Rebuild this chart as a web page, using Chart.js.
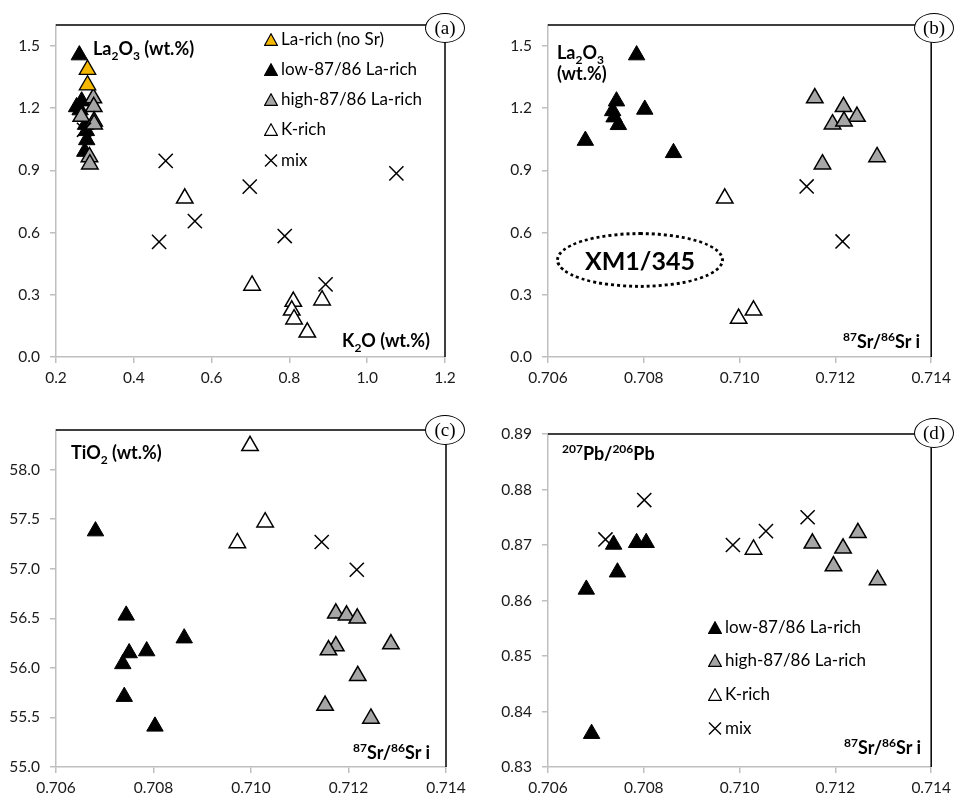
<!DOCTYPE html>
<html><head><meta charset="utf-8">
<script src="https://cdn.jsdelivr.net/npm/chart.js@4.4.1/dist/chart.umd.min.js"></script>
<style>
body{margin:0;background:#fff;}
#wrap{position:relative;width:957px;height:800px;overflow:hidden;font-family:Lato,sans-serif;color:#000;}
canvas{position:absolute;}
.lbl{position:absolute;font-weight:bold;font-size:18px;white-space:nowrap;line-height:20px;transform:translateY(-50%);}
.lbl sub,.lbl sup{font-size:12px;line-height:0;}
.r{transform:translate(-100%,-50%);}
.circ{position:absolute;width:40px;height:30px;border:1.3px solid #000;border-radius:50%;background:#fff;box-sizing:border-box;transform:translate(-50%,-50%);font-family:'Liberation Serif',serif;font-size:19px;text-align:center;line-height:27px;}
.leg{position:absolute;font-size:17px;white-space:nowrap;line-height:20px;transform:translateY(-50%);display:flex;align-items:center;}
.leg svg{margin-right:3px;}
.ell{position:absolute;left:556px;top:232px;width:168px;height:56px;border:3px dotted #000;border-radius:50%;box-sizing:border-box;}
.xm{position:absolute;left:640px;top:260px;transform:translate(-50%,-50%);font-weight:bold;font-size:25px;white-space:nowrap;}
</style></head>
<body>
<div id="wrap">
<canvas id="ca" width="480" height="400" style="left:0;top:0"></canvas>
<canvas id="cb" width="477" height="400" style="left:480px;top:0"></canvas>
<canvas id="cc" width="480" height="400" style="left:0;top:400px"></canvas>
<canvas id="cd" width="477" height="400" style="left:480px;top:400px"></canvas>

<!-- panel a -->
<div class="lbl" style="left:93px;top:48px">La<sub>2</sub>O<sub>3</sub> (wt.%)</div>
<div class="lbl r" style="left:430px;top:340px">K<sub>2</sub>O (wt.%)</div>
<div class="leg" style="left:264px;top:39px"><svg width="14" height="13"><polygon points="7,0.8 13.3,12.3 0.7,12.3" fill="#f5b800" stroke="#000" stroke-width="1.2"/></svg>La-rich (no Sr)</div>
<div class="leg" style="left:264px;top:69px"><svg width="14" height="13"><polygon points="7,0.8 13.3,12.3 0.7,12.3" fill="#000" stroke="#000" stroke-width="1.2"/></svg>low-87/86 La-rich</div>
<div class="leg" style="left:264px;top:99px"><svg width="14" height="13"><polygon points="7,0.8 13.3,12.3 0.7,12.3" fill="#a6a6a6" stroke="#000" stroke-width="1.2"/></svg>high-87/86 La-rich</div>
<div class="leg" style="left:264px;top:129px"><svg width="14" height="13"><polygon points="7,0.8 13.3,12.3 0.7,12.3" fill="#fff" stroke="#000" stroke-width="1.2"/></svg>K-rich</div>
<div class="leg" style="left:264px;top:160px"><svg width="14" height="13"><path d="M1,0.5 L13,12.5 M13,0.5 L1,12.5" stroke="#000" stroke-width="1.4"/></svg>mix</div>
<div class="circ" style="left:445px;top:28px">(a)</div>

<!-- panel b -->
<div class="lbl" style="left:557px;top:52px">La<sub>2</sub>O<sub>3</sub></div>
<div class="lbl" style="left:557px;top:73px">(wt.%)</div>
<div class="lbl r" style="left:920px;top:341px"><sup>87</sup>Sr/<sup>86</sup>Sr i</div>
<div class="ell"></div>
<div class="xm">XM1/345</div>
<div class="circ" style="left:934px;top:28px">(b)</div>

<!-- panel c -->
<div class="lbl" style="left:71px;top:452px">TiO<sub>2</sub> (wt.%)</div>
<div class="lbl r" style="left:430px;top:752px"><sup>87</sup>Sr/<sup>86</sup>Sr i</div>
<div class="circ" style="left:445px;top:430px">(c)</div>

<!-- panel d -->
<div class="lbl" style="left:562px;top:453px"><sup>207</sup>Pb/<sup>206</sup>Pb</div>
<div class="lbl r" style="left:921px;top:747px"><sup>87</sup>Sr/<sup>86</sup>Sr i</div>
<div class="leg" style="left:708px;top:627px"><svg width="14" height="13"><polygon points="7,0.8 13.3,12.3 0.7,12.3" fill="#000" stroke="#000" stroke-width="1.2"/></svg>low-87/86 La-rich</div>
<div class="leg" style="left:708px;top:660px"><svg width="14" height="13"><polygon points="7,0.8 13.3,12.3 0.7,12.3" fill="#a6a6a6" stroke="#000" stroke-width="1.2"/></svg>high-87/86 La-rich</div>
<div class="leg" style="left:708px;top:694px"><svg width="14" height="13"><polygon points="7,0.8 13.3,12.3 0.7,12.3" fill="#fff" stroke="#000" stroke-width="1.2"/></svg>K-rich</div>
<div class="leg" style="left:708px;top:728px"><svg width="14" height="13"><path d="M1,0.5 L13,12.5 M13,0.5 L1,12.5" stroke="#000" stroke-width="1.4"/></svg>mix</div>
<div class="circ" style="left:934px;top:433px">(d)</div>
</div>

<script>
// ---------- Panel (a): K2O (x) vs La2O3 (y) ----------
const aOrangeX = [0.281, 0.281];
const aOrangeY = [1.385, 1.31];
const aLowX = [0.260, 0.266, 0.253, 0.262, 0.276, 0.279, 0.274, 0.278];
const aLowY = [1.455, 1.233, 1.205, 1.19, 1.12, 1.046, 0.99, 1.09];
const aHighX = [0.296, 0.297, 0.265, 0.298, 0.298, 0.286, 0.287];
const aHighY = [1.248, 1.206, 1.159, 1.136, 1.122, 0.964, 0.929];
const aKX = [0.531, 0.704, 0.810, 0.806, 0.812, 0.846, 0.884];
const aKY = [0.765, 0.345, 0.267, 0.225, 0.182, 0.119, 0.274];
const aMixX = [0.482, 0.698, 1.075, 0.557, 0.465, 0.788, 0.893, 0.272];
const aMixY = [0.945, 0.821, 0.885, 0.655, 0.555, 0.583, 0.350, 1.095];

// ---------- Panel (b): 87Sr/86Sr i (x) vs La2O3 (y) ----------
const bLowX = [0.70785, 0.70743, 0.70802, 0.70735, 0.70738, 0.70747, 0.70678, 0.70862];
const bLowY = [1.455, 1.233, 1.193, 1.186, 1.156, 1.119, 1.043, 0.984];
const bHighX = [0.71157, 0.71217, 0.71245, 0.71194, 0.71218, 0.71173, 0.71287];
const bHighY = [1.248, 1.206, 1.159, 1.122, 1.136, 0.929, 0.964];
const bKX = [0.70969, 0.70998, 0.71029];
const bKY = [0.765, 0.185, 0.225];
const bMixX = [0.71140, 0.71215];
const bMixY = [0.822, 0.557];

// ---------- Panel (c): 87Sr/86Sr i (x) vs TiO2 (y) ----------
const cLowX = [0.70681, 0.70744, 0.70863, 0.70786, 0.70750, 0.70737, 0.70740, 0.70803];
const cLowY = [57.38, 56.53, 56.30, 56.17, 56.15, 56.04, 55.71, 55.41];
const cHighX = [0.71174, 0.71196, 0.71218, 0.71174, 0.71159, 0.71287, 0.71219, 0.71152, 0.71246];
const cHighY = [56.55, 56.53, 56.50, 56.22, 56.18, 56.24, 55.92, 55.62, 55.49];
const cKX = [0.70998, 0.71029, 0.70972];
const cKY = [58.24, 57.47, 57.26];
const cMixX = [0.71145, 0.71217];
const cMixY = [57.27, 56.99];

// ---------- Panel (d): 87Sr/86Sr i (x) vs 207Pb/206Pb (y) ----------
const dLowX = [0.70680, 0.70691, 0.70737, 0.70745, 0.70785, 0.70805];
const dLowY = [0.8620, 0.8360, 0.8701, 0.8651, 0.8704, 0.8704];
const dHighX = [0.71152, 0.71216, 0.71196, 0.71247, 0.71288];
const dHighY = [0.8703, 0.8694, 0.8662, 0.8722, 0.8637];
const dKX = [0.71029];
const dKY = [0.8692];
const dMixX = [0.70720, 0.70801, 0.70986, 0.71055, 0.71142];
const dMixY = [0.8710, 0.8781, 0.8700, 0.8725, 0.8750];

// ---------- axis ranges / ticks ----------
const srRange = [0.706, 0.714, 0.002, 3];
const aXRange = [0.2, 1.2, 0.2, 1];
const laRange = [0, 1.6, 0.3, 1];
const tiRange = [55, 58.4, 0.5, 1];
const pbRange = [0.83, 0.89, 0.01, 2];

const pts = (xs, ys) => xs.map((x, i) => ({x: x, y: ys[i]}));

const TRI = {pointStyle: 'triangle', pointRadius: 9.5, pointHoverRadius: 9.5};
const STY = {
  orange: Object.assign({backgroundColor: '#f5b800', borderColor: '#000', borderWidth: 1.3}, TRI),
  low: Object.assign({backgroundColor: '#000', borderColor: '#000', borderWidth: 1}, TRI),
  high: Object.assign({backgroundColor: '#a6a6a6', borderColor: '#000', borderWidth: 1.5}, TRI),
  krich: Object.assign({backgroundColor: '#fff', borderColor: '#000', borderWidth: 1.5}, TRI),
  mix: {pointStyle: 'crossRot', pointRadius: 10, pointHoverRadius: 10, borderColor: '#000', backgroundColor: '#000', borderWidth: 1.5}
};

function ds(label, style, xs, ys, order) {
  return Object.assign({label: label, data: pts(xs, ys), showLine: false, order: order}, STY[style]);
}

const framePlugin = {
  id: 'frame',
  beforeDatasetsDraw(chart) {
    const c = chart.ctx, a = chart.chartArea;
    c.save();
    c.strokeStyle = '#000';
    c.lineWidth = 1.5;
    c.beginPath();
    c.moveTo(a.left, a.top);
    c.lineTo(a.right, a.top);
    c.lineTo(a.right, a.bottom);
    c.stroke();
    c.restore();
  }
};

function axis(r, fit, labelPad) {
  return {
    type: 'linear', min: r[0], max: r[1],
    ticks: {stepSize: r[2], includeBounds: false, callback: v => Number(v).toFixed(r[3]),
            font: {family: 'Lato', size: 15.5}, color: '#1a1a1a', padding: labelPad, maxRotation: 0, autoSkip: false},
    grid: {drawOnChartArea: false, drawTicks: true, tickLength: 6, color: '#bfbfbf', lineWidth: 1.5},
    border: {display: true, color: '#bfbfbf', width: 1.5},
    afterFit: fit
  };
}

function makeChart(id, datasets, xr, yr, yAxisW, xAxisH, padTop, padRight) {
  return new Chart(document.getElementById(id), {
    type: 'scatter',
    data: {datasets: datasets},
    options: {
      responsive: false, animation: false, events: [],
      layout: {padding: {top: padTop, right: padRight, left: 0, bottom: 0}},
      plugins: {legend: {display: false}, tooltip: {enabled: false}},
      scales: {
        x: axis(xr, s => { s.height = xAxisH; }, 6),
        y: axis(yr, s => { s.width = yAxisW; }, 10)
      }
    },
    plugins: [framePlugin]
  });
}

makeChart('ca', [
  ds('K-rich', 'krich', aKX, aKY, 5),
  ds('mix', 'mix', aMixX, aMixY, 1),
  ds('low-87/86 La-rich', 'low', aLowX, aLowY, 4),
  ds('high-87/86 La-rich', 'high', aHighX, aHighY, 3),
  ds('La-rich (no Sr)', 'orange', aOrangeX, aOrangeY, 2)
], aXRange, laRange, 56, 43, 25, 35);

makeChart('cb', [
  ds('low-87/86 La-rich', 'low', bLowX, bLowY, 3),
  ds('high-87/86 La-rich', 'high', bHighX, bHighY, 2),
  ds('K-rich', 'krich', bKX, bKY, 4),
  ds('mix', 'mix', bMixX, bMixY, 1)
], srRange, laRange, 68, 43, 25, 21);

makeChart('cc', [
  ds('low-87/86 La-rich', 'low', cLowX, cLowY, 3),
  ds('high-87/86 La-rich', 'high', cHighX, cHighY, 2),
  ds('K-rich', 'krich', cKX, cKY, 4),
  ds('mix', 'mix', cMixX, cMixY, 1)
], srRange, tiRange, 56, 33, 30, 34);

makeChart('cd', [
  ds('low-87/86 La-rich', 'low', dLowX, dLowY, 2),
  ds('high-87/86 La-rich', 'high', dHighX, dHighY, 3),
  ds('K-rich', 'krich', dKX, dKY, 4),
  ds('mix', 'mix', dMixX, dMixY, 1)
], srRange, pbRange, 68, 33, 34, 21);
</script>
</body></html>
